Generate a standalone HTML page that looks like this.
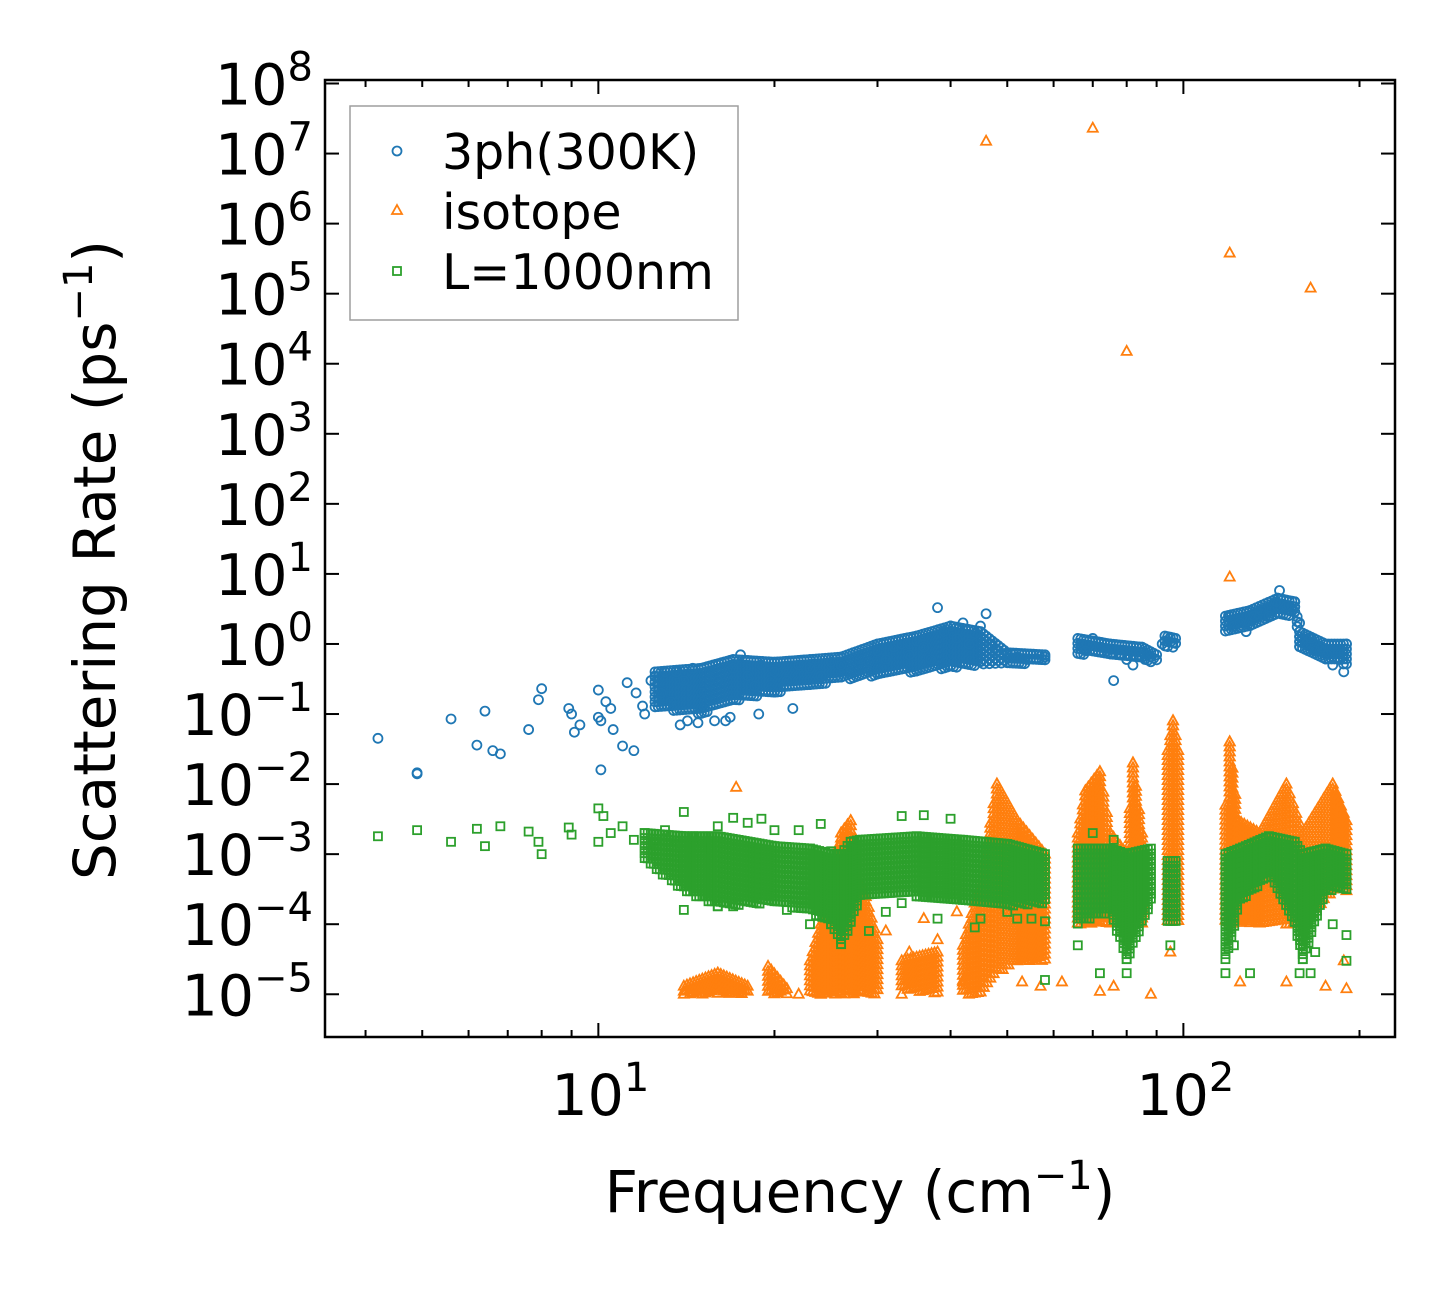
<!DOCTYPE html>
<html><head><meta charset="utf-8"><style>
body{margin:0;background:#fff}
svg text{font-family:"DejaVu Sans","Liberation Sans",sans-serif;fill:#000}
</style></head><body>
<svg id="chart" width="1455" height="1287" viewBox="0 0 1455 1287" xmlns="http://www.w3.org/2000/svg">
<rect width="1455" height="1287" fill="#fff"/>
<g id="marks"></g>
<g id="axes"></g>
<rect x="325" y="80" width="1070" height="957" fill="none" stroke="#000" stroke-width="2.5"/>
<g>
<rect x="350" y="106" width="388" height="214" fill="#fff" stroke="#999" stroke-width="1.5" opacity="0.95"/>
<circle cx="397" cy="151" r="4.5" fill="none" stroke="#1f77b4" stroke-width="1.8"/>
<text x="442" y="169" font-size="49">3ph(300K)</text>
<polygon points="397,205 402,214 392,214" fill="none" stroke="#ff7f0e" stroke-width="1.8"/>
<text x="442" y="229" font-size="49">isotope</text>
<rect x="393" y="267" width="8" height="8" fill="none" stroke="#2ca02c" stroke-width="1.8"/>
<text x="442" y="289" font-size="49">L=1000nm</text>
</g>
<text x="860" y="1212" font-size="58" text-anchor="middle">Frequency (cm<tspan font-size="40" dy="-23">−1</tspan><tspan dy="23">)</tspan></text>
<text transform="translate(115,560) rotate(-90)" font-size="58" text-anchor="middle">Scattering Rate (ps<tspan font-size="40" dy="-23">−1</tspan><tspan dy="23">)</tspan></text>
</svg>
<script>
// ---- data ----
const yTickExps = [8,7,6,5,4,3,2,1,0,-1,-2,-3,-4,-5];
const xTickExps = [1,2];
const xMinorTicks = [4,5,6,7,8,9,20,30,40,50,60,70,80,90,200];

const blueFreq = [4.2,4.9,4.9,5.6,6.2,6.4,6.6,6.8,7.6,7.9,8.0,8.9,9.0,9.1,9.3,10.0,10.0,10.1,10.1,10.3,10.5,10.6,11.0,11.2,11.5,11.6,11.9,12.0,12.3,12.5,12.8,13,13.3,13.6,14,14.2,14.5,15,15.5,16,16.5,17,17.5,18,18.5,19,20,21,22,23,24,25,26,27,28,29,30,31,32,33,34,35,36,37,38,39,40,41,42,43,44,45,46,47,48,50,52,54,56,58,67,68,70,72,74,76,78,80,82,84,86,92,95,96,120,122,125,128,132,136,140,144,146,150,155,158,162,165,168,172,176,180,185,190,188,14.8,15.8,16.8,13.8,18.8,21.5];
const blueRate = [0.045,0.014,0.0145,0.085,0.036,0.11,0.03,0.027,0.06,0.16,0.23,0.12,0.1,0.055,0.07,0.22,0.09,0.016,0.08,0.15,0.12,0.06,0.035,0.28,0.03,0.2,0.13,0.1,0.3,0.35,0.2,0.4,0.15,0.4,0.3,0.08,0.45,0.2,0.4,0.3,0.08,0.45,0.7,0.35,0.25,0.5,0.4,0.3,0.5,0.45,0.35,0.55,0.5,0.4,0.6,0.55,0.8,0.6,0.9,1.0,0.7,1.1,0.9,0.6,3.3,1.5,1.8,1.2,2.0,1.0,1.4,1.8,2.7,1.0,0.8,0.7,0.65,0.6,0.62,0.65,1.0,0.8,1.2,0.9,0.8,0.3,0.7,0.6,0.5,0.7,0.6,1.0,1.2,0.9,2.5,1.8,2.0,1.5,2.5,3.0,2.5,4.0,5.8,3.5,4.0,2.0,1.0,1.2,0.8,0.9,0.7,0.5,0.6,1.0,0.4,0.075,0.08,0.09,0.07,0.1,0.12];
const blueBands = [
 [[12.5,0.12,0.4],[15,0.1,0.45],[17,0.15,0.6],[20,0.2,0.55],[23,0.25,0.6],[26,0.3,0.65],[30,0.35,1.0],[35,0.4,1.3],[40,0.45,1.8],[45,0.5,1.5],[50,0.5,0.75],[58,0.55,0.7]],
 [[66,0.7,1.2],[75,0.7,1.0],[85,0.55,0.9],[90,0.55,0.7]],
 [[93,0.9,1.3],[97,0.9,1.2]],
 [[118,1.5,2.5],[130,1.8,3.0],[145,2.5,4.5],[155,2.5,4.0],[158,0.9,1.5],[175,0.6,1.0],[190,0.5,1.0]]
];
const orangeFreq = [46,70,80,120,165,120,17.2,14,37,42,53,57,72,76,88,125,150,175,190,188,22,33,62,95,31,34,36,38,41,43];
const orangeRate = [1.5e7,2.3e7,1.5e4,3.8e5,1.2e5,9,0.009,1e-5,2e-5,1.5e-5,1.5e-5,1.3e-5,1.1e-5,1.3e-5,1e-5,1.5e-5,1.5e-5,1.3e-5,1.2e-5,3e-5,1e-5,1e-5,1.5e-5,4e-5,8e-5,4e-5,1.2e-4,6e-5,1.5e-4,2e-5];
const orangeBands = [
 [[14,1e-5,1.3e-5],[16,1e-5,2e-5],[18,1e-5,1.3e-5]],
 [[19.5,1e-5,2.5e-5],[21,1e-5,1.2e-5]],
 [[23,1e-5,3e-5],[24,1e-5,1e-4],[26,1e-5,2e-3],[27,1e-5,3e-3],[28,1e-5,5e-4],[30,1e-5,6e-5]],
 [[33,1.2e-5,3e-5],[38,1e-5,4e-5]],
 [[42,1e-5,5e-5],[45,1e-5,4e-4],[48,2e-5,1e-2],[52,3e-5,3e-3],[58,3e-5,1e-3]],
 [[66,1e-4,2e-3],[68,1e-4,8e-3],[72,1e-4,1.5e-2],[75,1e-4,2e-3],[80,1e-4,1e-3],[82,1e-4,2e-2],[85,1e-4,2e-3]],
 [[94,1e-4,3e-2],[96,1e-4,8e-2],[98,1e-4,3e-2]],
 [[118,1e-4,5e-3],[120,1e-4,4e-2],[124,1e-4,3e-3],[135,1e-4,2e-3],[150,1e-4,1e-2],[160,1e-4,2e-3],[180,3e-4,1e-2],[190,3e-4,3e-3]]
];
const greenFreq = [4.2,4.9,5.6,6.2,6.4,6.8,7.6,7.9,8.0,8.9,9.0,10.0,10.0,10.2,10.5,11,11.5,12,12.5,13,13.5,14,14.5,15,16,17,18,19,19.5,20,22,24,25,27,33,36,40,45,50,52,55,58,58,66,70,72,76,80,82,95,118,118,122,130,158,165,168,180,190,190,14,17,25,21,23,29,31,33,38,44];
const greenRate = [0.0018,0.0022,0.0015,0.0023,0.0013,0.0025,0.0021,0.0015,0.001,0.0024,0.0019,0.0045,0.0015,0.0035,0.002,0.0025,0.0016,0.002,0.0015,0.0022,0.0013,0.004,0.0018,0.0012,0.0025,0.0033,0.0028,0.0032,0.00025,0.0022,0.0022,0.0027,0.0011,0.0012,0.0035,0.0036,0.0032,0.00012,0.00015,0.00012,0.00012,0.00011,0.000016,0.00005,0.002,0.00002,0.0016,0.00002,0.00009,0.00005,0.00002,0.00012,0.00005,0.00002,0.00002,0.00002,0.00004,0.0001,0.00003,0.00007,0.00016,0.00018,0.0001,0.00016,0.0001,0.00008,0.00015,0.0002,0.00012,0.00009];
const greenBands = [
 [[12,8e-4,2e-3],[14,3e-4,1.8e-3],[16,1.8e-4,1.8e-3],[20,2e-4,1.3e-3],[23,1.5e-4,1.2e-3],[25,1e-4,1e-3],[26,5e-5,1e-3],[27,1e-4,1.5e-3],[28,2.5e-4,1.6e-3],[35,2.5e-4,1.8e-3],[42,2e-4,1.6e-3],[50,1.8e-4,1.4e-3],[58,2e-4,1e-3]],
 [[66,1e-4,1.2e-3],[75,1.5e-4,1.2e-3],[80,3e-5,1.0e-3],[88,2e-4,1.2e-3]],
 [[94,1e-4,8e-4],[97,1e-4,8e-4]],
 [[118,3e-5,1e-3],[125,2e-4,1.2e-3],[140,5e-4,1.8e-3],[155,1e-4,1.5e-3],[160,3e-5,1e-3],[175,3e-4,1.2e-3],[190,3e-4,1e-3]]
];

// ---- scales ----
const X0=325,X1=1395,Y0=80,Y1=1037;
const xLogMin=Math.log10(3.41), xLogMax=Math.log10(230);
const yLogMin=-5.61, yLogMax=8.05;
function sx(f){return X0+(Math.log10(f)-xLogMin)/(xLogMax-xLogMin)*(X1-X0);}
function sy(v){return Y1-(Math.log10(v)-yLogMin)/(yLogMax-yLogMin)*(Y1-Y0);}
const NS="http://www.w3.org/2000/svg";
const marks=document.getElementById('marks'), axes=document.getElementById('axes');

function marker(kind,x,y,parent){
  let el;
  if(kind==='circle'){el=document.createElementNS(NS,'circle');el.setAttribute('cx',x);el.setAttribute('cy',y);el.setAttribute('r',4.5);el.setAttribute('stroke','#1f77b4');}
  else if(kind==='tri'){el=document.createElementNS(NS,'polygon');el.setAttribute('points',`${x},${y-5.5} ${x+5},${y+3.5} ${x-5},${y+3.5}`);el.setAttribute('stroke','#ff7f0e');}
  else {el=document.createElementNS(NS,'rect');el.setAttribute('x',x-4);el.setAttribute('y',y-4);el.setAttribute('width',8);el.setAttribute('height',8);el.setAttribute('stroke','#2ca02c');}
  el.setAttribute('fill','none');el.setAttribute('stroke-width',1.8);
  parent.appendChild(el);
  return el;
}
function drawSeries(name,kind,freq,rate,bands){
  const g=document.createElementNS(NS,'g');
  
  
  marks.appendChild(g);
  bands.forEach(seg=>{
    for(let i=0;i<seg.length-1;i++){
      const a=seg[i],b=seg[i+1];
      const xa=sx(a[0]),xb=sx(b[0]);
      const n=Math.max(1,Math.round((xb-xa)/3));
      for(let k=0;k<=n;k++){
        const t=k/n;
        const x=xa+(xb-xa)*t;
        const lo=sy(a[1])+(sy(b[1])-sy(a[1]))*t;
        const hi=sy(a[2])+(sy(b[2])-sy(a[2]))*t;
        for(let y=hi;y<=lo;y+=5){
          const m=marker(kind,x,y,g);
          
          
        }
      }
    }
  });
  freq.forEach((f,i)=>{
    const m=marker(kind,sx(f),sy(rate[i]),g);
    
    
  });
}
drawSeries('series-3ph','circle',blueFreq,blueRate,blueBands);
drawSeries('series-isotope','tri',orangeFreq,orangeRate,orangeBands);
drawSeries('series-boundary','square',greenFreq,greenRate,greenBands);

function line(x1,y1,x2,y2,name){
  const l=document.createElementNS(NS,'line');
  l.setAttribute('x1',x1);l.setAttribute('y1',y1);l.setAttribute('x2',x2);l.setAttribute('y2',y2);
  l.setAttribute('stroke','#000');l.setAttribute('stroke-width',2);
  
  
  axes.appendChild(l);
}
function expLabel(x,y,e,anchor,name){
  const t=document.createElementNS(NS,'text');
  t.setAttribute('x',x);t.setAttribute('y',y);t.setAttribute('font-size',57);t.setAttribute('text-anchor',anchor);
  
  
  const s=(e<0?'−':'')+Math.abs(e);
  t.innerHTML=`10<tspan font-size="40" dy="-24">${s}</tspan>`;
  axes.appendChild(t);
}
yTickExps.forEach(e=>{
  const y=sy(Math.pow(10,e));
  line(X0,y,X0+14,y,'y-tick');
  line(X1,y,X1-14,y,'y-tick-right');
  expLabel(313,y+21,e,'end','y-tick-label');
});
xTickExps.forEach(e=>{
  const x=sx(Math.pow(10,e));
  line(x,Y1,x,Y1-14,'x-tick');
  line(x,Y0,x,Y0+14,'x-tick-top');
  expLabel(x+2,1115,e,'middle','x-tick-label');
});
xMinorTicks.forEach(f=>{
  const x=sx(f);
  line(x,Y1,x,Y1-7,'x-minor-tick');
  line(x,Y0,x,Y0+7,'x-minor-tick-top');
});
</script>
</body></html>
